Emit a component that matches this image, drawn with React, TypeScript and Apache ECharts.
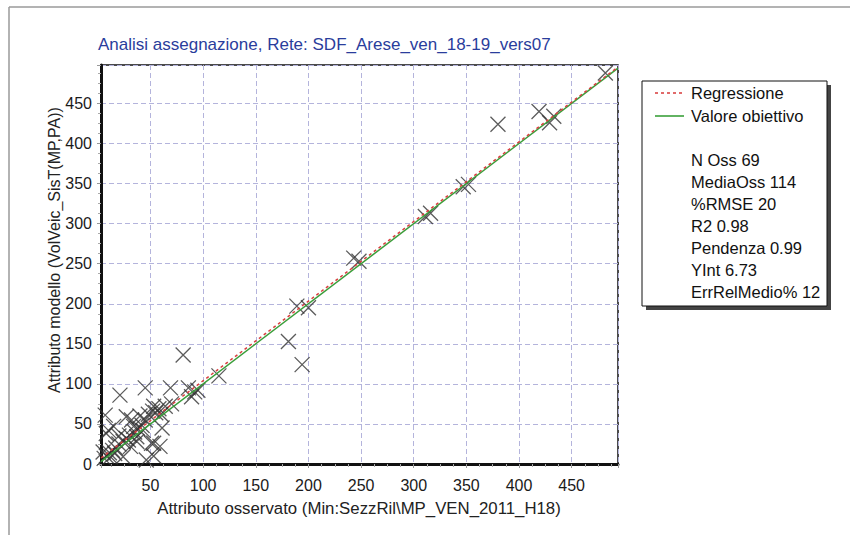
import React, { useEffect, useRef } from "react";
import * as echarts from "echarts";

const titleText = "Analisi assegnazione, Rete: SDF_Arese_ven_18-19_vers07";
const xAxisName = "Attributo osservato (Min:SezzRil\\MP_VEN_2011_H18)";
const yAxisName = "Attributo modello (VolVeic_SisT(MP,PA))";

const legendSeries = ["Regressione", "Valore obiettivo"];
const statsLines = [
  "N Oss 69",
  "MediaOss 114",
  "%RMSE 20",
  "R2 0.98",
  "Pendenza 0.99",
  "YInt 6.73",
  "ErrRelMedio% 12",
];

// observed (x) values
const observed = [
  482, 419, 433, 429, 380, 347, 352, 311, 316, 243,
  248, 189, 200, 181, 194, 81, 115, 86, 92, 89,
  95, 21, 45, 69, 53, 61, 53, 53, 7, 10,
  16, 32, 29, 37, 48, 52, 55, 58, 60, 45,
  42, 38, 35, 30, 27, 24, 20, 17, 14, 11,
  8, 6, 24, 12, 46, 5, 27, 15, 8, 34,
  43, 59, 51, 37, 31, 64, 40, 20, 70,
];
// model (y) values
const modelled = [
  488, 440, 434, 426, 424, 346, 349, 309, 313, 257,
  253, 197, 195, 153, 124, 136, 110, 95, 90, 84,
  92, 86, 95, 95, 72, 45, 26, 10, 61, 42,
  13, 55, 30, 34, 62, 66, 64, 69, 62, 55,
  48, 44, 40, 36, 32, 28, 25, 20, 17, 14,
  10, 7, 9, 9, 5, 15, 59, 47, 38, 47,
  42, 22, 26, 28, 22, 72, 60, 35, 75,
];

const targetLine = [
  [3, 3],
  [494, 494],
];
const regressionLine = [
  [3, 7.5],
  [494, 495.5],
];

const xMin = 3;
const xMax = 494;
const yMin = 0;
const yMax = 498;

const FONT = "'Liberation Sans', Arial, sans-serif";

export default function App() {
  const ref = useRef<HTMLDivElement>(null);

  useEffect(() => {
    if (!ref.current) return;
    const chart = echarts.init(ref.current, null, { renderer: "svg" });

    const points = observed.map((x, i) => [x, modelled[i]]);

    const legendX = 642;
    const legendY = 81;
    const legendW = 185;
    const legendH = 225;

    const graphics: any[] = [
      // window frame
      {
        type: "line",
        shape: { x1: 9, y1: 7, x2: 9, y2: 535 },
        style: { stroke: "#9a9a9a", lineWidth: 1.5 },
        silent: true,
      },
      {
        type: "line",
        shape: { x1: 9, y1: 7, x2: 850, y2: 7 },
        style: { stroke: "#9a9a9a", lineWidth: 1.5 },
        silent: true,
      },
      // title
      {
        type: "text",
        x: 98,
        y: 44,
        style: {
          text: titleText,
          fill: "#2a3d9c",
          font: `17px ${FONT}`,
          textAlign: "left",
          textVerticalAlign: "middle",
        },
      },
      // axis names
      {
        type: "text",
        x: 359,
        y: 508,
        style: {
          text: xAxisName,
          fill: "#222",
          font: `16.8px ${FONT}`,
          textAlign: "center",
          textVerticalAlign: "middle",
        },
      },
      {
        type: "text",
        x: 54,
        y: 250,
        rotation: Math.PI / 2,
        style: {
          text: yAxisName,
          fill: "#222",
          font: `16px ${FONT}`,
          textAlign: "center",
          textVerticalAlign: "middle",
        },
      },
      // legend box shadow + box
      {
        type: "rect",
        shape: { x: legendX + 4, y: legendY + 4, width: legendW, height: legendH },
        style: { fill: "#444" },
      },
      {
        type: "rect",
        shape: { x: legendX, y: legendY, width: legendW, height: legendH },
        style: { fill: "#fff", stroke: "#111", lineWidth: 1 },
      },
      {
        type: "line",
        shape: { x1: 655, y1: 93, x2: 684, y2: 93 },
        style: { stroke: "#d83a3a", lineWidth: 1.5, lineDash: [3, 3] },
      },
      {
        type: "line",
        shape: { x1: 655, y1: 116, x2: 684, y2: 116 },
        style: { stroke: "#2e9a2e", lineWidth: 1.5 },
      },
      ...legendSeries.map((t, i) => ({
        type: "text",
        x: 691,
        y: 93 + i * 23,
        style: {
          text: t,
          fill: "#111",
          font: `16.5px ${FONT}`,
          textAlign: "left",
          textVerticalAlign: "middle",
        },
      })),
      ...statsLines.map((t, i) => ({
        type: "text",
        x: 691,
        y: 160 + i * 22,
        style: {
          text: t,
          fill: "#111",
          font: `16.5px ${FONT}`,
          textAlign: "left",
          textVerticalAlign: "middle",
        },
      })),
    ];

    const axisCommon = {
      axisLine: { show: true, onZero: false, lineStyle: { color: "#111", width: 3 } },
      axisTick: { show: true, length: 4, lineStyle: { color: "#999", width: 1 } },
      minorTick: { show: true, splitNumber: 4, length: 3, lineStyle: { color: "#aaa" } },
      splitLine: {
        show: true,
        lineStyle: { color: "#b4b4dc", width: 1, type: [5, 3] },
      },
    };

    chart.setOption({
      animation: false,
      backgroundColor: "#fff",
      grid: {
        left: 101,
        right: 850 - 618,
        top: 65,
        bottom: 535 - 464,
        show: true,
        borderColor: "#111",
        borderWidth: 1.5,
        backgroundColor: "transparent",
      },
      xAxis: {
        type: "value",
        min: xMin,
        max: xMax,
        splitNumber: 10,
        ...axisCommon,
        axisLabel: {
          showMinLabel: false,
          showMaxLabel: false,
          color: "#1a1a1a",
          fontSize: 16,
          fontFamily: FONT,
          margin: 13,
        },
      },
      yAxis: {
        type: "value",
        min: yMin,
        max: yMax,
        splitNumber: 10,
        ...axisCommon,
        axisLabel: {
          showMaxLabel: false,
          color: "#1a1a1a",
          fontSize: 16,
          fontFamily: FONT,
          margin: 9,
        },
      },
      series: [
        {
          type: "scatter",
          name: "Osservazioni",
          data: points,
          symbol: "path://M0 0L10 10M10 0L0 10",
          symbolSize: 15,
          itemStyle: { color: "none", borderColor: "#333", borderWidth: 1.3 },
          z: 3,
        },
        {
          type: "line",
          name: legendSeries[1],
          data: targetLine,
          symbol: "none",
          lineStyle: { color: "#3a9e3a", width: 1.5 },
          z: 4,
        },
        {
          type: "line",
          name: legendSeries[0],
          data: regressionLine,
          symbol: "none",
          lineStyle: { color: "#d84040", width: 1.5, type: [3, 3] },
          z: 5,
        },
      ],
      graphic: graphics,
    });

    return () => chart.dispose();
  }, []);

  return (
    <div
      ref={ref}
      style={{ position: "fixed", left: 0, top: 0, width: 850, height: 535 }}
    />
  );
}
